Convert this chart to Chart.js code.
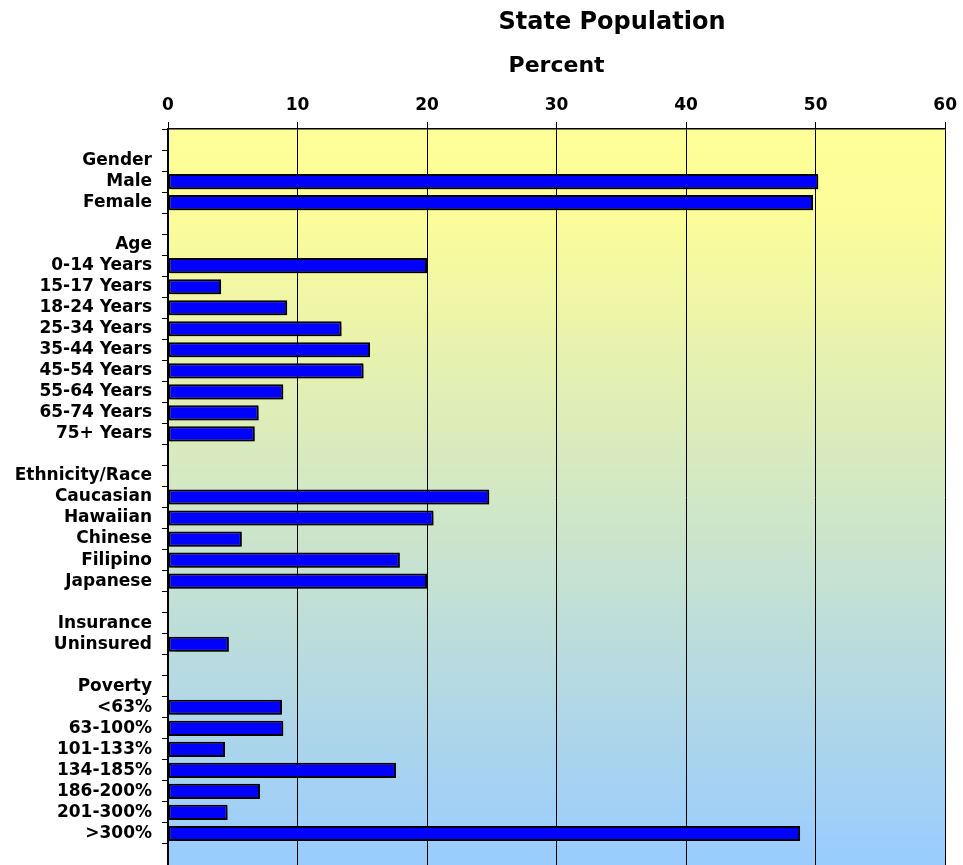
<!DOCTYPE html>
<html>
<head>
<meta charset="utf-8">
<script src="https://cdn.jsdelivr.net/npm/chart.js@4/dist/chart.umd.min.js"></script>
<style>
  html, body { margin: 0; padding: 0; background: #ffffff; }
  #wrap { width: 963px; height: 865px; position: relative; }
</style>
</head>
<body>
<div id="wrap"><canvas id="c" width="963" height="865"></canvas></div>
<script>
const chartTitle = 'State Population';
const axisTitle = 'Percent';
const categories = [
  '', 'Gender', 'Male', 'Female',
  '', 'Age', '0-14 Years', '15-17 Years', '18-24 Years', '25-34 Years', '35-44 Years', '45-54 Years', '55-64 Years', '65-74 Years', '75+ Years',
  '', 'Ethnicity/Race', 'Caucasian', 'Hawaiian', 'Chinese', 'Filipino', 'Japanese',
  '', 'Insurance', 'Uninsured',
  '', 'Poverty', '<63%', '63-100%', '101-133%', '134-185%', '186-200%', '201-300%', '>300%',
  ''
];
const percentValues = [
  null, null, 50.2, 49.8,
  null, null, 20.0, 4.1, 9.2, 13.4, 15.6, 15.1, 8.9, 7.0, 6.7,
  null, null, 24.8, 20.5, 5.7, 17.9, 20.0,
  null, null, 4.7,
  null, null, 8.8, 8.9, 4.4, 17.6, 7.1, 4.6, 48.8,
  null
];
const xTickMin = 0;
const xTickMax = 60;
const xTickStep = 10;

const FONT = "'DejaVu Sans', Verdana, sans-serif";

const bgPlugin = {
  id: 'bg',
  beforeDraw(chart) {
    const { ctx, chartArea } = chart;
    const g = ctx.createLinearGradient(0, chartArea.top, 0, chartArea.bottom);
    g.addColorStop(0, '#FFFF99');
    g.addColorStop(0.12, '#FCFC99');
    g.addColorStop(1, '#99CCFF');
    ctx.save();
    ctx.fillStyle = g;
    ctx.fillRect(chartArea.left, chartArea.top, chartArea.right - chartArea.left, chartArea.bottom - chartArea.top);
    ctx.restore();
  },
  beforeDatasetsDraw(chart) {
    const ctx = chart.ctx;
    ctx.save();
    ctx.shadowColor = 'rgba(0,0,0,0.3)';
    ctx.shadowOffsetX = 2;
    ctx.shadowOffsetY = 2;
    ctx.shadowBlur = 1;
  },
  afterDatasetsDraw(chart) {
    chart.ctx.restore();
  },
  afterDraw(chart) {
    const { ctx, chartArea } = chart;
    ctx.save();
    ctx.fillStyle = '#000';
    ctx.textAlign = 'center';
    ctx.textBaseline = 'middle';
    ctx.font = "bold 24px " + FONT;
    ctx.fillText(chartTitle, 612, 23);
    ctx.font = "bold 22px " + FONT;
    ctx.fillText(axisTitle, (chartArea.left + chartArea.right) / 2, 66);
    ctx.restore();
  }
};

new Chart(document.getElementById('c'), {
  type: 'bar',
  data: {
    labels: categories,
    datasets: [{
      data: percentValues,
      backgroundColor: '#0000FF',
      borderColor: '#000000',
      borderWidth: 2,
      borderSkipped: false,
      barPercentage: 0.72,
      categoryPercentage: 1.0
    }]
  },
  options: {
    indexAxis: 'y',
    responsive: false,
    animation: false,
    maintainAspectRatio: false,
    layout: { padding: { top: 0, right: 17, bottom: 0, left: 0 } },
    plugins: {
      legend: { display: false },
      title: { display: false },
      tooltip: { enabled: false }
    },
    scales: {
      x: {
        position: 'top',
        min: xTickMin,
        max: xTickMax,
        ticks: {
          stepSize: xTickStep,
          color: '#000',
          font: { family: FONT, size: 17, weight: 'bold' },
          padding: 6
        },
        grid: {
          color: '#000',
          lineWidth: 1,
          tickLength: 7,
          drawTicks: true,
          drawOnChartArea: true
        },
        border: { display: true, color: '#000', width: 1.5 },
        afterFit(scale) { scale.height = 129; }
      },
      y: {
        position: 'left',
        ticks: {
          color: '#000',
          font: { family: FONT, size: 17, weight: 'bold' },
          padding: 10,
          autoSkip: false
        },
        grid: {
          color: '#000',
          offset: true,
          drawOnChartArea: false,
          drawTicks: true,
          tickLength: 6
        },
        border: { display: true, color: '#000', width: 1.5 },
        afterFit(scale) {
          scale.width = 168;
          scale.paddingTop = 0;
          scale.paddingBottom = 0;
        }
      }
    }
  },
  plugins: [bgPlugin]
});
</script>
</body>
</html>
